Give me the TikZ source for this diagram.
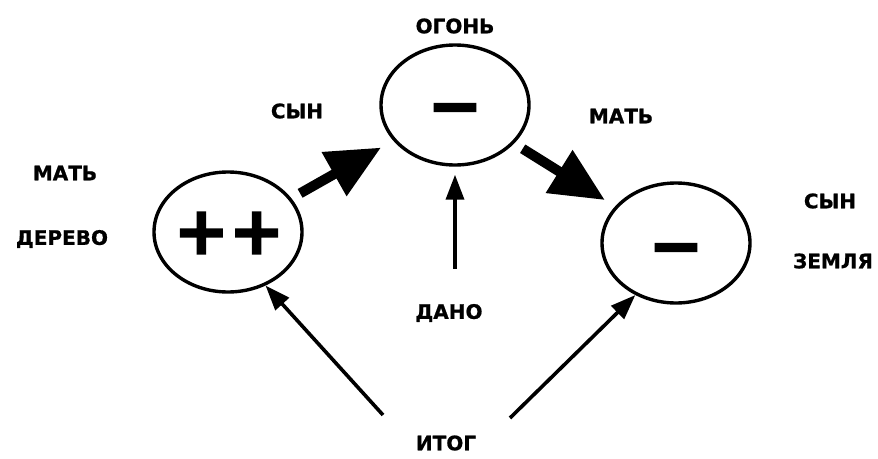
\documentclass[tikz,border=0pt]{standalone}
\usepackage{fontspec}
\setmainfont{DejaVu Sans}
\newfontfamily\signfont[FakeBold=2.5]{DejaVu Sans Bold}
\newfontfamily\lblfont[FakeBold=0.8]{DejaVu Sans Bold}
\usetikzlibrary{shapes.geometric,arrows.meta}
\tikzset{
  circ/.style={draw, ellipse, line width=3.4pt, minimum width=148pt, minimum height=120pt, inner sep=0pt},
  lbl/.style={font=\fontsize{20}{22}\lblfont, inner sep=1pt},
  sign/.style={font=\fontsize{66}{66}\signfont, inner sep=0pt},
  fat/.style={line width=10pt, -{Triangle[width=48pt,length=54pt]}},
  slim/.style={line width=3.6pt, -{Triangle[width=18pt,length=25pt]}}
}
\begin{document}
\begin{tikzpicture}[x=1pt,y=-1pt]
\useasboundingbox[fill=white] (0,0) rectangle (878,458);
% circles
\node[circ] (L) at (228,232) {};
\node[circ] (T) at (455,105) {};
\node[circ] (R) at (676,243) {};
% signs
\node[sign] (Ls) at (229,233) {++};
\node[sign] (Ts) at (455,116) {−};
\node[sign] (Rs) at (676,256) {−};
% labels
\node[lbl] (ogon) at (455,26) {ОГОНЬ};
\node[lbl] (syn1) at (297,111) {СЫН};
\node[lbl] (mat1) at (65,173) {МАТЬ};
\node[lbl] (derevo) at (62,239) {ДЕРЕВО};
\node[lbl] (mat2) at (621,116) {МАТЬ};
\node[lbl] (syn2) at (830,201) {СЫН};
\node[lbl] (zemlya) at (833,261) {ЗЕМЛЯ};
\node[lbl] (dano) at (449,313) {ДАНО};
\node[lbl] (itog) at (446,443) {ИТОГ};
% tails of the lower arrows
\coordinate (a1) at (383,415);
\coordinate (a2) at (510,418);
% arrows
\draw[fat, shorten <=10pt, shorten >=14pt] (L.28) -- (T.210);
\draw[fat, shorten <=10pt, shorten >=12pt] (T.-33) -- (R.149);
\draw[slim, shorten <=34pt, shorten >=8pt] (dano.north -| T.south) -- (T.south);
\draw[slim] (a1) -- (L.305);
\draw[slim] (a2) -- (R.232);
\end{tikzpicture}
\end{document}
